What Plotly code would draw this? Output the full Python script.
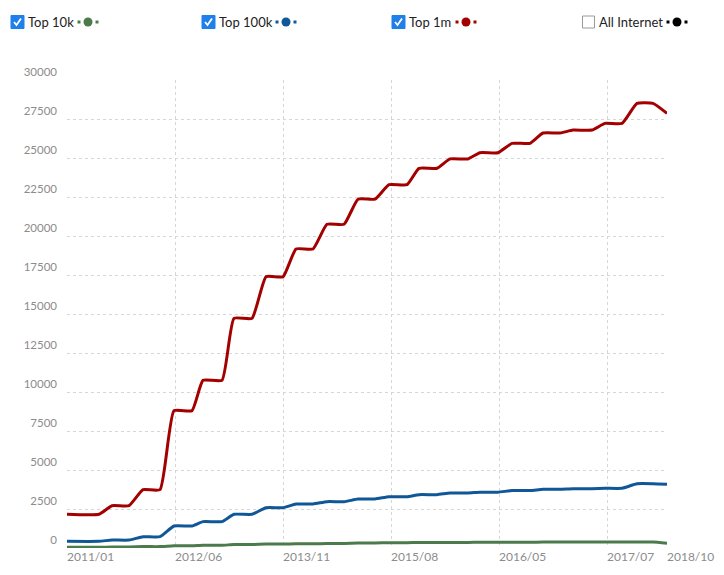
import plotly.graph_objects as go

# ---------------- data ----------------
tick_vals = [0, 18, 36, 54, 72, 90, 100]
tick_text = ["2011/01", "2012/06", "2013/11", "2015/08", "2016/05", "2017/07", "2018/10"]

# each reading is a plateau: value held from plateau_start to plateau_end (x-axis units)
plateau_start = [0, 7.5, 12.67, 17.83, 22.67, 27.83, 33.17, 38.17, 43.33, 48.5,
                 53.67, 58.67, 63.83, 68.83, 74.17, 79.33, 84.33, 89.67, 95, 100]
plateau_end = [5.33, 10.33, 15.5, 20.83, 25.83, 30.83, 36, 41, 46.17, 51.33,
               56.67, 61.67, 66.83, 71.83, 77.17, 82.17, 87.5, 92.5, 97.67, 100]

top_10k = [50, 60, 90, 150, 180, 220, 250, 270, 290, 320,
           340, 350, 360, 370, 370, 380, 380, 380, 380, 300]
top_100k = [430, 510, 725, 1410, 1690, 2160, 2580, 2820, 2970, 3140,
            3290, 3420, 3530, 3580, 3680, 3760, 3800, 3830, 4120, 4080]
top_1m = [2160, 2710, 3740, 8800, 10750, 14720, 17390, 19170, 20750, 22360,
          23290, 24340, 24940, 25340, 25940, 26600, 26790, 27220, 28500, 27860]

legend_names = ["Top 10k", "Top 100k", "Top 1m", "All Internet"]
legend_checked = [True, True, True, False]
series_colors = ["#4b7b4b", "#0f5797", "#a30000", "#000000"]

# ---------------- layout geometry ----------------
W, H = 724, 575
ML, MR, MT, MB = 67, 57, 80, 27
PW, PH = W - ML - MR, H - MT - MB


def px(xp):
    return (xp - ML) / PW


def py(yp):
    return (H - MB - yp) / PH


def expand(values):
    xs, ys = [], []
    for s, e, v in zip(plateau_start, plateau_end, values):
        xs.append(s)
        ys.append(v)
        if e != s:
            xs.append(e)
            ys.append(v)
    return xs, ys


fig = go.Figure()
for name, vals, col in zip(legend_names[:3], [top_10k, top_100k, top_1m], series_colors[:3]):
    xs, ys = expand(vals)
    fig.add_trace(go.Scatter(
        x=xs, y=ys, mode="lines", name=name,
        line=dict(color=col, width=3, shape="spline", smoothing=0.45),
        hoverinfo="x+y", showlegend=False,
    ))

# ---------------- custom legend (checkbox, text, marker) ----------------
shapes = []
annotations = []
box_left = [11, 202, 392, 582]
marker_cx = [88, 286, 466, 677]
ly = 22
for name, chk, col, bx, mc in zip(legend_names, legend_checked, series_colors, box_left, marker_cx):
    if chk:
        shapes.append(dict(type="rect", xref="paper", yref="paper",
                           x0=px(bx), x1=px(bx + 13), y0=py(ly + 6.5), y1=py(ly - 6.5),
                           fillcolor="#1e80e8", line=dict(color="#1e80e8", width=1)))
        shapes.append(dict(type="path", xref="paper", yref="paper",
                           path=f"M {px(bx+3)},{py(ly)} L {px(bx+5.5)},{py(ly+3)} L {px(bx+10)},{py(ly-3.5)}",
                           line=dict(color="white", width=1.8)))
    else:
        shapes.append(dict(type="rect", xref="paper", yref="paper",
                           x0=px(bx + 0.5), x1=px(bx + 12.5), y0=py(ly + 6), y1=py(ly - 6),
                           fillcolor="white", line=dict(color="#9a9a9a", width=1)))
    annotations.append(dict(xref="paper", yref="paper", x=px(bx + 15), y=py(ly),
                            xanchor="left", yanchor="middle", showarrow=False,
                            text=name, font=dict(family="Lato, sans-serif", size=13, color="#222222")))
    shapes.append(dict(type="circle", xref="paper", yref="paper",
                       x0=px(mc - 4.5), x1=px(mc + 4.5), y0=py(ly + 4.5), y1=py(ly - 4.5),
                       fillcolor=col, line=dict(color=col, width=0)))
    for dx in (-9, 9):
        shapes.append(dict(type="rect", xref="paper", yref="paper",
                           x0=px(mc + dx - 1.5), x1=px(mc + dx + 1.5), y0=py(ly + 1.5), y1=py(ly - 1.5),
                           fillcolor=col, line=dict(color=col, width=0)))

grid_col = "#d6d6d6"
fig.update_layout(
    width=W, height=H, autosize=False,
    margin=dict(l=ML, r=MR, t=MT, b=MB, pad=0),
    paper_bgcolor="white", plot_bgcolor="white",
    shapes=shapes, annotations=annotations,
    font=dict(family="Lato, sans-serif"),
    xaxis=dict(
        range=[0, 100], tickvals=tick_vals, ticktext=tick_text,
        showgrid=True, gridcolor=grid_col, griddash="dot", gridwidth=1,
        zeroline=False, showline=False, ticks="",
        ticklabelposition="outside right",
        tickfont=dict(family="Lato, sans-serif", size=12, color="#8c8c8c"),
        automargin=False, fixedrange=True,
    ),
    yaxis=dict(
        range=[0, 30000], dtick=2500, tick0=0, tickformat="d",
        showgrid=True, gridcolor=grid_col, griddash="dot", gridwidth=1,
        zeroline=False, showline=False, ticks="",
        ticklabelposition="outside top", ticklabelstandoff=9,
        tickfont=dict(family="Lato, sans-serif", size=11.5, color="#8c8c8c"),
        automargin=False, fixedrange=True,
    ),
    showlegend=False,
)

fig.write_html("out.html", config={"displayModeBar": False},
               post_script="document.body.style.margin='0';")
